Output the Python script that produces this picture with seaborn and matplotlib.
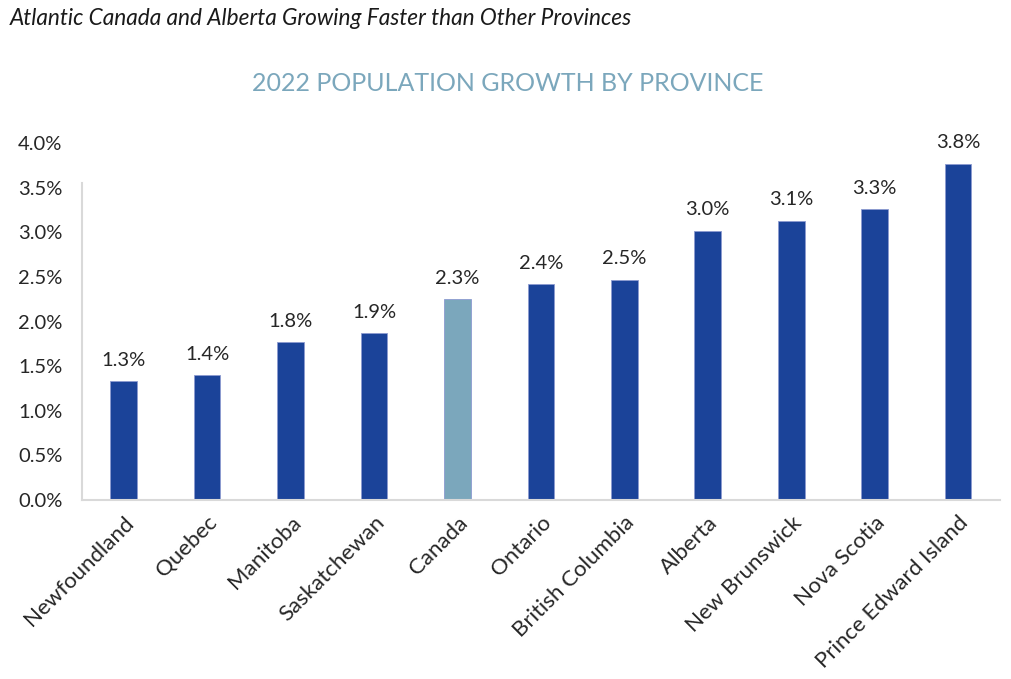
import matplotlib
matplotlib.use("Agg")
import matplotlib.pyplot as plt
import seaborn as sns
import pandas as pd

provinces = ["Newfoundland", "Quebec", "Manitoba", "Saskatchewan", "Canada", "Ontario",
             "British Columbia", "Alberta", "New Brunswick", "Nova Scotia", "Prince Edward Island"]
growth = [1.33, 1.40, 1.77, 1.87, 2.25, 2.42, 2.47, 3.02, 3.13, 3.26, 3.77]
labels = ["1.3%", "1.4%", "1.8%", "1.9%", "2.3%", "2.4%", "2.5%", "3.0%", "3.1%", "3.3%", "3.8%"]
yticks = [0.0, 0.5, 1.0, 1.5, 2.0, 2.5, 3.0, 3.5, 4.0]

dark_blue = "#1B4399"
light_blue = "#7BA7BC"
colors = [light_blue if p == "Canada" else dark_blue for p in provinces]

sns.set_theme(style="white")
plt.rcParams["font.family"] = ["Lato", "DejaVu Sans"]

df = pd.DataFrame({"province": provinces, "growth": growth})

fig = plt.figure(figsize=(10.12, 6.79), dpi=100)
ax = fig.add_axes([0.081, 0.2636, 0.907, 0.5254])

sns.barplot(data=df, x="province", y="growth", hue="province", palette=colors,
            width=0.32, legend=False, ax=ax, saturation=1,
            edgecolor="#8C9BD0", linewidth=0.6)

for i, (v, lab) in enumerate(zip(growth, labels)):
    ax.annotate(lab, (i, v), xytext=(0, 9), textcoords="offset points",
                ha="center", va="bottom", fontsize=14.5, color="#262626", clip_on=False)

ax.set_xlim(-0.5, len(provinces) - 0.5)
ax.set_ylim(0, 4.0)
ax.set_yticks(yticks)
ax.set_yticklabels([f"{t:.1f}%" for t in yticks])
ax.set_xlabel("")
ax.set_ylabel("")
ax.tick_params(axis="y", labelsize=14.5, colors="#262626", length=0, pad=14)
ax.tick_params(axis="x", labelsize=16, colors="#262626", length=0, pad=9)
plt.setp(ax.get_xticklabels(), rotation=45, ha="right", rotation_mode="anchor")

for s in ["top", "right"]:
    ax.spines[s].set_visible(False)
for s in ["left", "bottom"]:
    ax.spines[s].set_color("#D9D9D9")
    ax.spines[s].set_linewidth(1.5)
ax.spines["left"].set_bounds(0, 3.55)

fig.text(0.01, 0.973, "Atlantic Canada and Alberta Growing Faster than Other Provinces",
         fontsize=16.3, style="italic", color="#1a1a1a", ha="left", va="center")
fig.text(0.502, 0.877, "2022 POPULATION GROWTH BY PROVINCE", fontsize=18,
         color=light_blue, ha="center", va="center")

fig.savefig("out.png", dpi=100)
